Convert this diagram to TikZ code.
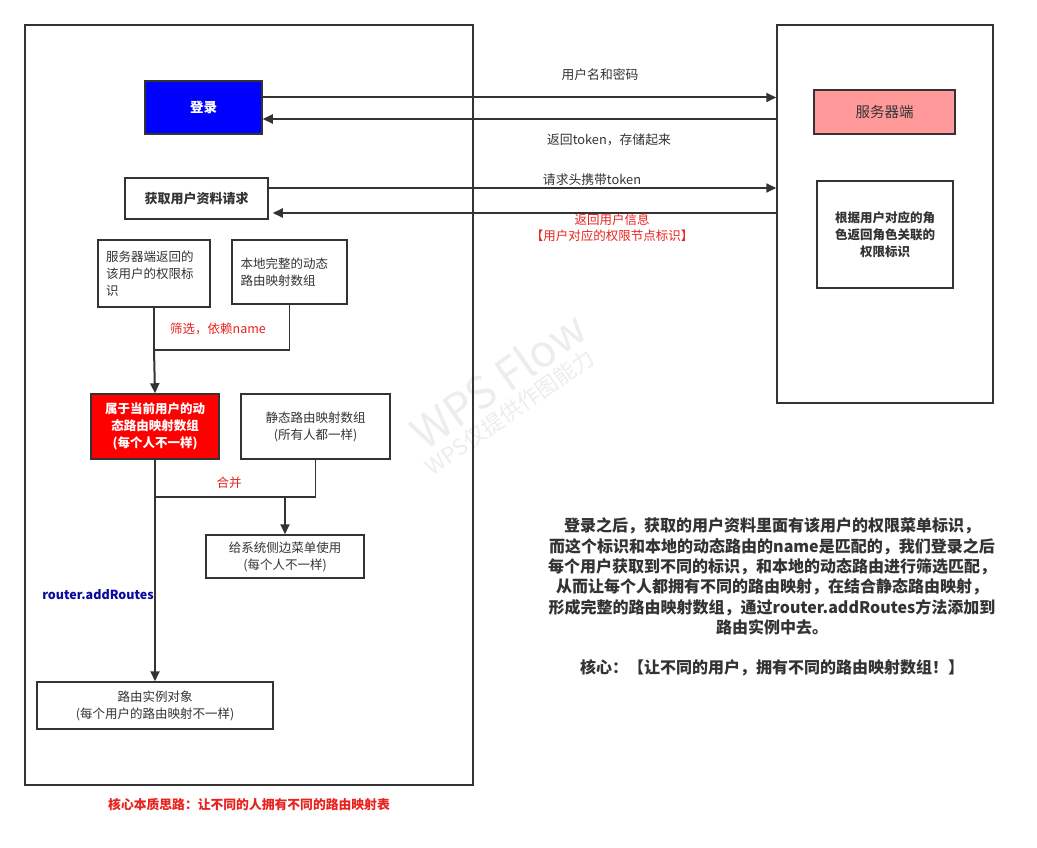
\documentclass[tikz,border=0pt]{standalone}
\usepackage{fontspec}
\setmainfont{Noto Sans CJK SC}
\usetikzlibrary{arrows.meta,positioning,calc}
\definecolor{ink}{HTML}{333333}
\definecolor{lblred}{HTML}{E8231F}
\definecolor{lblblue}{HTML}{0A0AA0}
\definecolor{srvfill}{HTML}{FF9999}
\definecolor{wm}{HTML}{EDEDED}
\tikzset{
  box/.style={draw=ink, line width=1.5pt, inner sep=0pt, text=ink, font=\fontsize{12.5}{17}\selectfont, align=center},
  frame/.style={draw=ink, line width=1.5pt, inner sep=0pt},
  arr/.style={draw=ink, line width=2pt, -{Triangle[length=10pt,width=9pt]}},
  conn/.style={draw=ink, line width=1.5pt},
  lbl/.style={text=ink, font=\fontsize{12.8}{16}\selectfont, inner sep=0pt, align=center},
  redlbl/.style={text=lblred, font=\fontsize{12.5}{16}\selectfont, inner sep=0pt, align=center},
}
\begin{document}
\begin{tikzpicture}[x=1pt,y=-1pt]
\useasboundingbox (0,0) rectangle (1037,848);
\fill[white] (0,0) rectangle (1037,848);
% watermark
\node[text=wm, rotate=35, font=\fontsize{44}{50}\selectfont, inner sep=0pt] (wm1) at (498,380) {WPS Flow};
\node[text=wm, rotate=35, font=\fontsize{22}{26}\selectfont, inner sep=0pt] (wm2) at (510,412) {WPS仅提供作图能力};
% frames
\node[frame, minimum width=448pt, minimum height=760pt] (lframe) at (249,405) {};
\node[frame, minimum width=216pt, minimum height=378pt] (rframe) at (885,214) {};
% boxes
\node[box, fill=blue, text=white, font=\bfseries\fontsize{13.5}{17}\selectfont, minimum width=117pt, minimum height=53pt] (login) at (203.5,107.5) {登录};
\node[box, fill=srvfill, font=\fontsize{14.5}{18}\selectfont, minimum width=141pt, minimum height=44pt] (server) at (884.5,112) {服务器端};
\node[box, font=\bfseries\fontsize{13}{17}\selectfont, minimum width=143pt, minimum height=41pt] (fetch) at (196.5,198.5) {获取用户资料请求};
\node[box, font=\bfseries\fontsize{12.5}{17}\selectfont, minimum width=136pt, minimum height=107pt] (role) at (885,234.5) {根据用户对应的角\\色返回角色关联的\\权限标识};
\node[box, minimum width=112pt, minimum height=67pt, text width=96pt, align=left] (srvret) at (154,273.5) {服务器端返回的\\该用户的权限标\\识};
\node[box, minimum width=115pt, minimum height=64pt, text width=98pt, align=left] (local) at (289.5,272) {本地完整的动态\\路由映射数组};
\node[box, fill=red, text=white, font=\bfseries\fontsize{12.5}{17}\selectfont, minimum width=128pt, minimum height=65pt] (dyn) at (155,426.5) {属于当前用户的动\\态路由映射数组\\(每个人不一样)};
\node[box, minimum width=149pt, minimum height=65pt] (static) at (315.5,426.5) {静态路由映射数组\\(所有人都一样)};
\node[box, minimum width=158pt, minimum height=43pt] (menu) at (285,556.5) {给系统侧边菜单使用\\(每个人不一样)};
\node[box, minimum width=236pt, minimum height=47pt] (inst) at (155,705.5) {路由实例对象\\(每个用户的路由映射不一样)};
% request / response arrows
\draw[arr] ([yshift=10pt]login.east) -- ([yshift=10pt]login.east -| rframe.west);
\draw[arr] ([yshift=-11.5pt]login.east -| rframe.west) -- ([yshift=-11.5pt]login.east);
\draw[arr] ([yshift=10.5pt]fetch.east) -- ([yshift=10.5pt]fetch.east -| rframe.west);
\draw[arr, shorten >=4pt] ([yshift=-14.5pt]fetch.east -| rframe.west) -- ([yshift=-14.5pt]fetch.east);
\node[lbl] (l1) at (600,75) {用户名和密码};
\node[lbl] (l2) at (609,140) {返回token，存储起来};
\node[lbl] (l3) at (592,180) {请求头携带token};
\node[redlbl] (l4) at (612,228) {返回用户信息\\【用户对应的权限节点标识】};
% filter
\draw[conn] (srvret.south) -- (srvret.south |- 0,350) coordinate (f1) -| (local.south);
\draw[arr] (f1) -- (dyn.north);
\node[redlbl] (l5) at (218,329) {筛选，依赖name};
% merge
\draw[conn] (dyn.south) -- (dyn.south |- 0,497) coordinate (m1) -| (static.south);
\draw[arr] (m1 -| menu.north) -- (menu.north);
\draw[arr] (m1) -- (inst.north);
\node[redlbl] (l6) at (229,483) {合并};
\node[text=lblblue, font=\bfseries\fontsize{12.5}{16}\selectfont, inner sep=0pt] (l7) at (98,595) {router.addRoutes};
% bottom caption
\node[text=lblred, font=\bfseries\fontsize{12.8}{16}\selectfont, inner sep=0pt] (cap) at (249,805) {核心本质思路：让不同的人拥有不同的路由映射表};
% explanation
\node[text=ink, font=\bfseries\fontsize{16}{20.3}\selectfont, inner sep=0pt, align=center] (note) at (772,597) {登录之后，获取的用户资料里面有该用户的权限菜单标识，\\而这个标识和本地的动态路由的name是匹配的，我们登录之后\\每个用户获取到不同的标识，和本地的动态路由进行筛选匹配，\\从而让每个人都拥有不同的路由映射，在结合静态路由映射，\\形成完整的路由映射数组，通过router.addRoutes方法添加到\\路由实例中去。\\[20pt]核心：【让不同的用户，拥有不同的路由映射数组！】};
\end{tikzpicture}
\end{document}
